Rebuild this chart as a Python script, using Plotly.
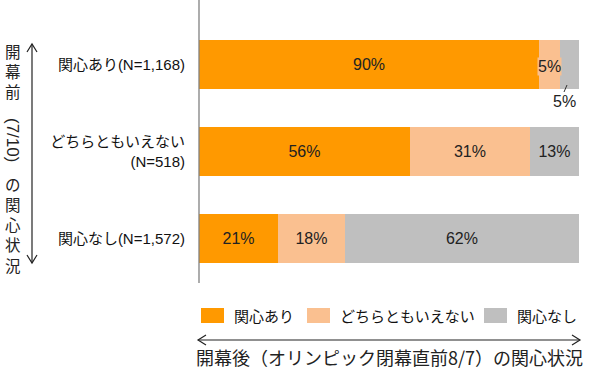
import plotly.graph_objects as go

categories = ["関心あり(N=1,168)", "どちらともいえない<br>(N=518)", "関心なし(N=1,572)"]
series_names = ["関心あり", "どちらともいえない", "関心なし"]
colors = ["#FF9900", "#FAC090", "#BFBFBF"]
# values (shares of each row)
values_yes = [89.5, 55.5, 20.8]
values_mid = [5.5, 31.6, 17.6]
values_no = [5.0, 12.9, 61.6]
labels_yes = ["90%", "56%", "21%"]
labels_mid = ["5%", "31%", "18%"]
labels_no = ["5%", "13%", "62%"]

JP = "Liberation Sans, Noto Sans CJK JP, sans-serif"
fig = go.Figure()
series = [(values_yes, labels_yes), (values_mid, labels_mid), (values_no, labels_no)]
for i, (vals, labs) in enumerate(series):
    txt = list(labs)
    if i >= 1:
        txt = [""] + labs[1:]
    fig.add_trace(go.Bar(
        y=categories, x=vals, orientation="h", name=series_names[i],
        marker=dict(color=colors[i], line=dict(width=0)),
        text=txt, textposition="inside", insidetextanchor="middle", textangle=0,
        textfont=dict(family=JP, size=16, color="#222222"),
        constraintext="none", hoverinfo="skip", showlegend=False,
    ))

fig.update_layout(
    barmode="stack", bargap=0.44,
    width=600, height=375,
    margin=dict(l=199, r=21, t=21, b=93),
    paper_bgcolor="white", plot_bgcolor="white",
    xaxis=dict(range=[0, 100], visible=False, fixedrange=True),
    yaxis=dict(categoryorder="array", categoryarray=categories[::-1],
               showline=False, showgrid=False, ticks="", ticklabelstandoff=13,
               tickfont=dict(family=JP, size=15, color="#111111"), fixedrange=True),
    showlegend=False,
)

def px(xp):
    return (xp - 199) / 380

def py(yp):
    return (282 - yp) / 261

def note(x, y, text, font, **kw):
    fig.add_annotation(xref="paper", yref="paper", x=px(x), y=py(y), text=text,
                       showarrow=False, font=font,
                       xanchor=kw.pop("xanchor", "center"), yanchor="middle", **kw)

# vertical axis line extending to top
fig.add_shape(type="line", xref="paper", yref="paper", x0=0, x1=0,
              y0=py(283), y1=py(0), line=dict(color="#808080", width=1.3))

# labels for the narrow segments of the first row
lab_font = dict(family=JP, size=16, color="#222222")
note(549, 66, labels_mid[0], lab_font, bgcolor=colors[1], borderpad=0)
note(564, 102, labels_no[0], lab_font)
fig.add_shape(type="line", xref="paper", yref="paper",
              x0=px(567), x1=px(564), y0=py(85), y1=py(92),
              line=dict(color="#333333", width=1))

# custom legend
leg = [(201, 232), (307, 338), (484, 515)]
for (sx, tx), name, col in zip(leg, series_names, colors):
    fig.add_shape(type="rect", xref="paper", yref="paper",
                  x0=px(sx), x1=px(sx + 23), y0=py(323), y1=py(308),
                  fillcolor=col, line=dict(width=0))
    note(tx, 316, name, dict(family=JP, size=15, color="#111111"), xanchor="left")

# horizontal double arrow
ay = 340
line_style = dict(color="#222222", width=1.2)
fig.add_shape(type="path", xref="paper", yref="paper",
              path=f"M {px(198)} {py(ay)} L {px(580)} {py(ay)}", line=line_style)
fig.add_shape(type="path", xref="paper", yref="paper",
              path=f"M {px(206)} {py(ay-5)} L {px(198)} {py(ay)} L {px(206)} {py(ay+5)}",
              line=line_style)
fig.add_shape(type="path", xref="paper", yref="paper",
              path=f"M {px(572)} {py(ay-5)} L {px(580)} {py(ay)} L {px(572)} {py(ay+5)}",
              line=line_style)
note(389, 357, "開幕後（オリンピック閉幕直前8/7）の関心状況",
     dict(family="Noto Sans CJK JP", size=18, color="#222222"))

# vertical double arrow
vx = 32
fig.add_shape(type="path", xref="paper", yref="paper",
              path=f"M {px(vx)} {py(44)} L {px(vx)} {py(263)}", line=line_style)
fig.add_shape(type="path", xref="paper", yref="paper",
              path=f"M {px(vx-5)} {py(52)} L {px(vx)} {py(44)} L {px(vx+5)} {py(52)}",
              line=line_style)
fig.add_shape(type="path", xref="paper", yref="paper",
              path=f"M {px(vx-5)} {py(255)} L {px(vx)} {py(263)} L {px(vx+5)} {py(255)}",
              line=line_style)

# vertical title
vfont = dict(family="Noto Sans CJK JP", size=15.5, color="#222222")
note(13, 71, "<br>".join("開幕前"), vfont)
note(13, 140, "(7/10)", dict(family="Liberation Sans", size=17, color="#222222"), textangle=90)
note(13, 224, "<br>".join("の関心状況"), vfont)

fig.write_html("out.html", config={"displayModeBar": False},
               post_script="document.body.style.margin='0';")
